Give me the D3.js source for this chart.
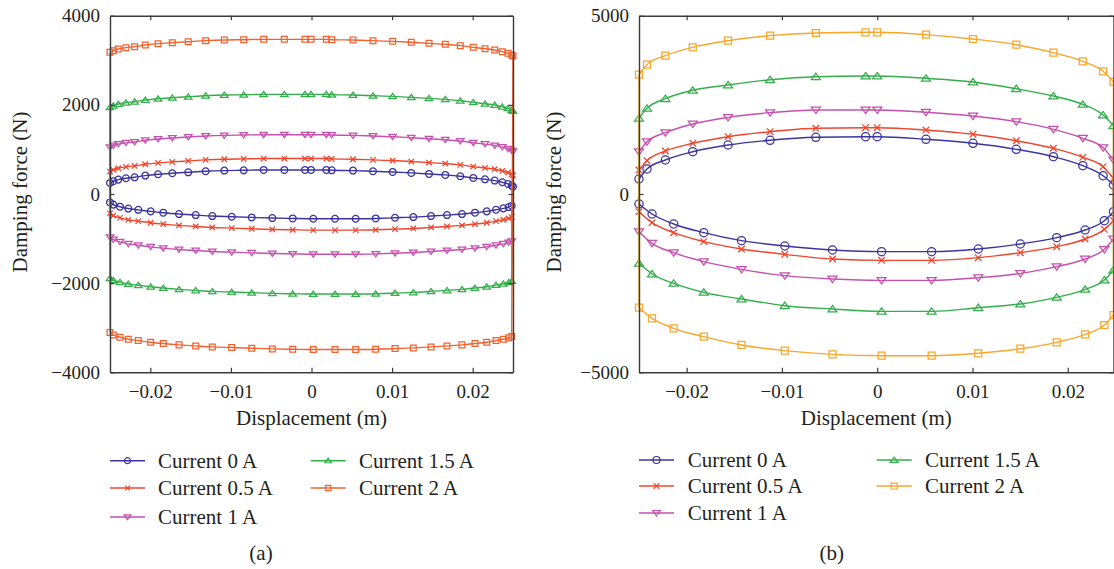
<!DOCTYPE html>
<html>
<head>
<meta charset="utf-8">
<script src="https://cdn.jsdelivr.net/npm/d3@7"></script>
<style>
  html, body { margin: 0; padding: 0; background: #fff; }
  svg { display: block; font-family: "Liberation Serif", "DejaVu Serif", serif; }
</style>
</head>
<body>
<svg id="chart" width="1114" height="569"></svg>
<script>
// ---------- Panel (a): displacement samples ----------
const aXUpper = [-0.025, -0.02459, -0.02397, -0.02302, -0.02194, -0.02062, -0.01904, -0.01727,
  -0.01529, -0.01313, -0.01082, -0.00841, -0.00593, -0.00337, -0.00081, -0.00006,
  0.00184, 0.00251, 0.00515, 0.00763, 0.01007, 0.01238, 0.01458, 0.0166,
  0.01846, 0.02007, 0.02153, 0.02273, 0.02367, 0.02438, 0.02484, 0.025];
const aXLower = [-0.025, -0.02459, -0.02376, -0.02273, -0.02149, -0.01995, -0.01839, -0.01644,
  -0.01437, -0.01231, -0.0099, -0.00742, -0.00486, -0.00233, 0.00022, 0.00292,
  0.00548, 0.00797, 0.01036, 0.01263, 0.01483, 0.01681, 0.01867, 0.02028,
  0.02174, 0.02289, 0.0238, 0.02447, 0.02484];

// Panel (a): damping force, upper branch (N)
const aUpper0  = [248, 286, 323, 353, 375, 413, 443, 465, 487, 510, 525, 532, 540, 540, 540, 540, 540, 532, 525, 510, 495, 473, 450, 428, 398, 360, 330, 301, 263, 226, 188, 166];
const aUpper05 = [503, 541, 578, 608, 630, 668, 698, 720, 742, 765, 780, 787, 795, 795, 795, 795, 795, 787, 780, 765, 750, 728, 705, 683, 653, 615, 585, 556, 518, 481, 443, 421];
const aUpper1  = [1050, 1086, 1120, 1148, 1168, 1205, 1234, 1256, 1278, 1300, 1315, 1322, 1330, 1330, 1330, 1330, 1330, 1322, 1315, 1300, 1285, 1263, 1240, 1218, 1188, 1150, 1120, 1091, 1053, 1016, 978, 956];
const aUpper15 = [1943, 1981, 2018, 2048, 2070, 2108, 2138, 2160, 2182, 2205, 2220, 2227, 2235, 2235, 2235, 2235, 2235, 2227, 2220, 2205, 2190, 2168, 2145, 2123, 2093, 2055, 2025, 1996, 1958, 1921, 1883, 1861];
const aUpper2  = [3178, 3216, 3253, 3283, 3305, 3343, 3373, 3395, 3417, 3440, 3455, 3462, 3470, 3470, 3470, 3470, 3470, 3462, 3455, 3440, 3425, 3403, 3380, 3358, 3328, 3290, 3260, 3231, 3193, 3156, 3118, 3096];

// Panel (a): damping force, lower branch (N)
const aLower0  = [-190, -238, -285, -326, -355, -390, -420, -450, -473, -495, -510, -525, -540, -548, -555, -555, -555, -548, -533, -518, -495, -473, -450, -420, -390, -353, -323, -293, -263];
const aLower05 = [-433, -484, -535, -579, -608, -645, -675, -705, -728, -750, -765, -780, -795, -803, -810, -810, -810, -803, -788, -773, -750, -728, -705, -675, -645, -608, -578, -548, -518];
const aLower1  = [-972, -1022, -1073, -1118, -1148, -1185, -1215, -1245, -1268, -1290, -1305, -1320, -1335, -1343, -1350, -1350, -1350, -1343, -1328, -1313, -1290, -1268, -1245, -1215, -1185, -1148, -1118, -1088, -1058];
const aLower15 = [-1892, -1935, -1978, -2018, -2046, -2080, -2110, -2140, -2163, -2185, -2200, -2215, -2230, -2238, -2245, -2245, -2245, -2238, -2223, -2208, -2185, -2163, -2140, -2110, -2080, -2043, -2013, -1983, -1953];
const aLower2  = [-3109, -3161, -3213, -3258, -3288, -3325, -3355, -3385, -3408, -3430, -3445, -3460, -3475, -3483, -3490, -3490, -3490, -3483, -3468, -3453, -3430, -3408, -3385, -3355, -3325, -3288, -3258, -3228, -3198];

// ---------- Panel (b): displacement samples ----------
const bXUpper = [-0.025, -0.02416, -0.02223, -0.01936, -0.01565, -0.01124, -0.00644, -0.00122,
  0, 0.00512, 0.01005, 0.0146, 0.01849, 0.02158, 0.02371, 0.0248];
const bXLower = [-0.025, -0.02363, -0.02136, -0.0182, -0.01424, -0.0097, -0.00469, 0.00046,
  0.00571, 0.01061, 0.01502, 0.01884, 0.02182, 0.02384, 0.0248];

const bUpper0  = [421, 701, 953, 1186, 1374, 1506, 1590, 1607, 1607, 1534, 1422, 1253, 1046, 794, 513, 252];
const bUpper05 = [673, 934, 1206, 1422, 1607, 1747, 1842, 1859, 1859, 1795, 1674, 1495, 1282, 1029, 766, 440];
const bUpper1  = [1186, 1467, 1719, 1963, 2150, 2281, 2356, 2356, 2356, 2291, 2187, 2028, 1814, 1562, 1298, 953];
const bUpper15 = [2123, 2403, 2673, 2908, 3057, 3205, 3290, 3309, 3309, 3244, 3141, 2953, 2748, 2515, 2215, 1915];
const bUpper2  = [3346, 3626, 3879, 4113, 4300, 4440, 4515, 4534, 4534, 4468, 4347, 4187, 3963, 3721, 3441, 3149];

const bLower0  = [-280, -561, -841, -1084, -1308, -1458, -1570, -1617, -1617, -1542, -1402, -1224, -1010, -748, -495];
const bLower05 = [-495, -804, -1084, -1336, -1542, -1692, -1823, -1860, -1860, -1785, -1645, -1477, -1262, -991, -748];
const bLower1  = [-1056, -1383, -1645, -1897, -2113, -2290, -2384, -2421, -2421, -2346, -2225, -2037, -1823, -1552, -1262];
const bLower15 = [-1944, -2243, -2505, -2757, -2944, -3132, -3225, -3291, -3291, -3188, -3085, -2898, -2673, -2412, -2131];
const bLower2  = [-3188, -3486, -3766, -4001, -4234, -4393, -4497, -4535, -4535, -4467, -4338, -4159, -3934, -3674, -3393];

// ---------- Labels and ticks ----------
const seriesLabels = ["Current 0\u2009A", "Current 0.5\u2009A", "Current 1\u2009A", "Current 1.5\u2009A", "Current 2\u2009A"];
const markerTypes  = ["circle", "cross", "triDown", "triUp", "square"];
const colorsA = ["#3b33a0", "#f0452c", "#c650ad", "#33ae4b", "#f2622f"];
const colorsB = ["#3b33a0", "#f0452c", "#c650ad", "#33ae4b", "#f9a62b"];

const xTickValues = [-0.02, -0.01, 0, 0.01, 0.02];
const xTickLabels = ["\u22120.02", "\u22120.01", "0", "0.01", "0.02"];
const aYTickValues = [-4000, -2000, 0, 2000, 4000];
const aYTickLabels = ["\u22124000", "\u22122000", "0", "2000", "4000"];
const bYTickValues = [-5000, 0, 5000];
const bYTickLabels = ["\u22125000", "0", "5000"];

const xTitle = "Displacement (m)";
const yTitle = "Damping force (N)";

// ---------- Drawing ----------
const svg = d3.select("#chart");
const AXIS_COLOR = "#3a3a3a";
const TEXT_COLOR = "#231f20";

function markerPath(type, s) {
  // s: nominal marker width in px
  const h = s / 2;
  switch (type) {
    case "circle": {
      const r = h;
      return `M${r},0A${r},${r} 0 1,1 ${-r},0A${r},${r} 0 1,1 ${r},0Z`;
    }
    case "square": {
      const q = h * 0.85;
      return `M${-q},${-q}H${q}V${q}H${-q}Z`;
    }
    case "cross": {
      const q = h * 0.8;
      return `M${-q},${-q}L${q},${q}M${-q},${q}L${q},${-q}`;
    }
    case "triUp": {
      const w = h * 1.1, t = h * 1.15;
      return `M0,${-t * 0.75}L${w},${t * 0.6}L${-w},${t * 0.6}Z`;
    }
    case "triDown": {
      const w = h * 1.1, t = h * 1.15;
      return `M0,${t * 0.75}L${w},${-t * 0.6}L${-w},${-t * 0.6}Z`;
    }
  }
  return "";
}

function drawPanel(cfg) {
  const x = d3.scaleLinear().domain(cfg.xDomain).range([cfg.left, cfg.right]);
  const y = d3.scaleLinear().domain(cfg.yDomain).range([cfg.bottom, cfg.top]);
  const g = svg.append("g");

  const line = d3.line().x(d => x(d[0])).y(d => y(d[1])).curve(d3.curveMonotoneX);

  cfg.series.forEach((s, i) => {
    const col = cfg.colors[i];
    const up = cfg.xUpper.map((v, k) => [v, s.upper[k]]);
    const lo = cfg.xLower.map((v, k) => [v, s.lower[k]]);
    const sg = g.append("g");
    sg.append("path").attr("d", line(up)).attr("fill", "none")
      .attr("stroke", col).attr("stroke-width", 1.4);
    sg.append("path").attr("d", line(lo)).attr("fill", "none")
      .attr("stroke", col).attr("stroke-width", 1.4);
    // vertical closures at the stroke ends
    const ends = [[up[0], lo[0]], [up[up.length - 1], lo[lo.length - 1]]];
    ends.forEach(([a, b]) => {
      sg.append("line")
        .attr("x1", x(a[0])).attr("y1", y(a[1]))
        .attr("x2", x(b[0])).attr("y2", y(b[1]))
        .attr("stroke", col).attr("stroke-width", 1.4);
    });
    sg.selectAll("path.mk").data(up.concat(lo)).join("path")
      .attr("class", "mk")
      .attr("transform", d => `translate(${x(d[0])},${y(d[1])})`)
      .attr("d", markerPath(markerTypes[i], cfg.markerSize))
      .attr("fill", "none").attr("stroke", col).attr("stroke-width", 1.25);
  });

  // axes: ticks point inward on all four sides
  const styleAxis = sel => {
    sel.select(".domain").attr("stroke", AXIS_COLOR).attr("stroke-width", 1.4);
    sel.selectAll(".tick line").attr("stroke", AXIS_COLOR).attr("stroke-width", 1.2);
    sel.selectAll(".tick text").attr("fill", TEXT_COLOR)
      .style("font-family", '"Liberation Serif", serif').style("font-size", "19px");
  };
  g.append("g").attr("transform", `translate(0,${cfg.bottom})`)
    .call(d3.axisBottom(x).tickValues(xTickValues).tickSizeInner(-4.5).tickSizeOuter(0)
      .tickPadding(12).tickFormat((d, k) => xTickLabels[k]))
    .call(styleAxis);
  g.append("g").attr("transform", `translate(0,${cfg.top})`)
    .call(d3.axisTop(x).tickValues(xTickValues).tickSizeInner(-4.5).tickSizeOuter(0).tickFormat(""))
    .call(styleAxis);
  g.append("g").attr("transform", `translate(${cfg.left},0)`)
    .call(d3.axisLeft(y).tickValues(cfg.yTickValues).tickSizeInner(-4.5).tickSizeOuter(0)
      .tickPadding(10).tickFormat((d, k) => cfg.yTickLabels[k]))
    .call(styleAxis);
  g.append("g").attr("transform", `translate(${cfg.right},0)`)
    .call(d3.axisRight(y).tickValues(cfg.yTickValues).tickSizeInner(-4.5).tickSizeOuter(0).tickFormat(""))
    .call(styleAxis);

  // axis titles
  g.append("text").attr("x", (cfg.left + cfg.right) / 2).attr("y", 425)
    .attr("text-anchor", "middle").attr("fill", TEXT_COLOR).style("font-size", "21px")
    .text(xTitle);
  g.append("text").attr("transform", `translate(${cfg.yTitleX},192) rotate(-90)`)
    .attr("text-anchor", "middle").attr("fill", TEXT_COLOR).style("font-size", "21px")
    .text(yTitle);

  // legend
  const lg = g.append("g");
  cfg.series.forEach((s, i) => {
    const col = i < 3 ? 0 : 1;
    const row = i < 3 ? i : i - 3;
    const lx = cfg.legendLineX[col], ly = cfg.legendRowY[row];
    lg.append("line").attr("x1", lx).attr("x2", lx + 35).attr("y1", ly).attr("y2", ly)
      .attr("stroke", cfg.colors[i]).attr("stroke-width", 1.4);
    lg.append("path").attr("transform", `translate(${lx + 17.5},${ly})`)
      .attr("d", markerPath(markerTypes[i], cfg.legendMarkerSize))
      .attr("fill", "none").attr("stroke", cfg.colors[i]).attr("stroke-width", 1.2);
    lg.append("text").attr("x", cfg.legendTextX[col]).attr("y", ly + 7)
      .attr("fill", TEXT_COLOR).style("font-size", "21px").text(s.label);
  });

  // panel caption
  g.append("text").attr("x", cfg.captionX).attr("y", 560)
    .attr("text-anchor", "middle").attr("fill", TEXT_COLOR).style("font-size", "21px")
    .text(cfg.caption);
}

drawPanel({
  left: 110, right: 513, top: 15.7, bottom: 372.3,
  xDomain: [-0.025, 0.025], yDomain: [-4000, 4000],
  yTickValues: aYTickValues, yTickLabels: aYTickLabels,
  xUpper: aXUpper, xLower: aXLower,
  series: [
    { label: seriesLabels[0], upper: aUpper0,  lower: aLower0 },
    { label: seriesLabels[1], upper: aUpper05, lower: aLower05 },
    { label: seriesLabels[2], upper: aUpper1,  lower: aLower1 },
    { label: seriesLabels[3], upper: aUpper15, lower: aLower15 },
    { label: seriesLabels[4], upper: aUpper2,  lower: aLower2 }
  ],
  colors: colorsA, markerSize: 6.8, legendMarkerSize: 6,
  yTitleX: 27,
  legendLineX: [110, 310.7], legendTextX: [158, 359], legendRowY: [460.7, 488, 517],
  captionX: 261, caption: "(a)"
});

drawPanel({
  left: 639, right: 1113.5, top: 15.7, bottom: 372.3,
  xDomain: [-0.025, 0.0248], yDomain: [-5000, 5000],
  yTickValues: bYTickValues, yTickLabels: bYTickLabels,
  xUpper: bXUpper, xLower: bXLower,
  series: [
    { label: seriesLabels[0], upper: bUpper0,  lower: bLower0 },
    { label: seriesLabels[1], upper: bUpper05, lower: bLower05 },
    { label: seriesLabels[2], upper: bUpper1,  lower: bLower1 },
    { label: seriesLabels[3], upper: bUpper15, lower: bLower15 },
    { label: seriesLabels[4], upper: bUpper2,  lower: bLower2 }
  ],
  colors: colorsB, markerSize: 8.2, legendMarkerSize: 7,
  yTitleX: 560.5,
  legendLineX: [639, 876.7], legendTextX: [687.7, 925], legendRowY: [460, 486, 513],
  captionX: 831.7, caption: "(b)"
});
</script>
</body>
</html>
